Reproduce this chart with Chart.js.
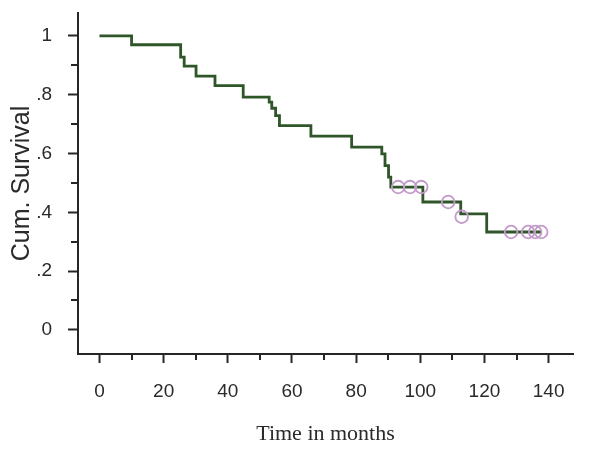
<!DOCTYPE html>
<html>
<head>
<meta charset="utf-8">
<script src="https://cdn.jsdelivr.net/npm/chart.js@4"></script>
<style>
  html, body { margin: 0; padding: 0; background: #fff; }
  #wrap { width: 602px; height: 453px; position: relative; }
</style>
</head>
<body>
<div id="wrap"><canvas id="kmChart"></canvas></div>
<script>
// Kaplan-Meier steps (months, cumulative survival)
const stepTimes = [0, 10.0, 25.3, 26.4, 30.1, 36.0, 44.8, 52.9, 53.7, 54.9, 56.1, 65.9, 78.6, 88.0, 89.0, 90.1, 90.8, 100.8, 112.6, 120.7, 137.7];
const stepSurvival = [1, 0.970, 0.928, 0.897, 0.863, 0.831, 0.792, 0.775, 0.754, 0.729, 0.695, 0.659, 0.622, 0.599, 0.559, 0.520, 0.486, 0.435, 0.395, 0.333, 0.333];

// censored cases (circles)
const censorTimes = [93.1, 96.8, 100.3, 108.7, 112.9, 128.3, 133.6, 135.8, 137.7];
const censorSurvival = [0.486, 0.486, 0.486, 0.435, 0.385, 0.333, 0.333, 0.333, 0.333];

const xTickValues = [0, 20, 40, 60, 80, 100, 120, 140];
const xTickLabels = ["0", "20", "40", "60", "80", "100", "120", "140"];
const xMinorTicks = [10, 30, 50, 70, 90, 110, 130];

const yTickValues = [0, 0.2, 0.4, 0.6, 0.8, 1];
const yTickLabels = ["0", ".2", ".4", ".6", ".8", "1"];
const yMinorTicks = [0.1, 0.3, 0.5, 0.7, 0.9];

const axisColor = "#262626";
const textColor = "#2a2a2a";
const sansFont = "'Liberation Sans', Arial, sans-serif";
const serifFont = "'Liberation Serif', 'Times New Roman', serif";

const minorTicksPlugin = {
  id: "minorTicks",
  afterDraw(chart) {
    const { ctx } = chart;
    const x = chart.scales.x;
    const y = chart.scales.y;
    ctx.save();
    ctx.strokeStyle = axisColor;
    ctx.lineWidth = 2;
    xMinorTicks.forEach((v) => {
      const px = Math.round(x.getPixelForValue(v));
      ctx.beginPath();
      ctx.moveTo(px, x.top);
      ctx.lineTo(px, x.top + 6);
      ctx.stroke();
    });
    yMinorTicks.forEach((v) => {
      const py = Math.round(y.getPixelForValue(v));
      ctx.beginPath();
      ctx.moveTo(y.right, py);
      ctx.lineTo(y.right - 7, py);
      ctx.stroke();
    });
    ctx.restore();
  },
};

const ctx = document.getElementById("kmChart").getContext("2d");

new Chart(ctx, {
  type: "line",
  data: {
    datasets: [
      {
        label: "Censored",
        data: censorTimes.map((t, i) => ({ x: t, y: censorSurvival[i] })),
        showLine: false,
        pointStyle: "circle",
        pointRadius: 6.3,
        pointBorderWidth: 1.8,
        pointBorderColor: "#c49acb",
        pointBackgroundColor: "rgba(0,0,0,0)",
        order: 0,
      },
      {
        label: "Cum. Survival",
        data: stepTimes.map((t, i) => ({ x: t, y: stepSurvival[i] })),
        stepped: true,
        borderColor: "#2f5628",
        borderWidth: 2.8,
        pointRadius: 0,
        fill: false,
        order: 1,
      },
    ],
  },
  options: {
    responsive: true,
    maintainAspectRatio: false,
    animation: false,
    layout: { padding: { top: 13, right: 29, left: 0, bottom: 0 } },
    plugins: {
      legend: { display: false },
      tooltip: { enabled: false },
    },
    scales: {
      x: {
        type: "linear",
        min: -6.7,
        max: 147.6,
        afterBuildTicks: (scale) => {
          scale.ticks = xTickValues.map((v) => ({ value: v }));
        },
        afterFit: (scale) => {
          scale.height = 99;
          scale.paddingLeft = 0;
          scale.paddingRight = 0;
        },
        ticks: {
          padding: 17,
          color: textColor,
          font: { family: sansFont, size: 19 },
          maxRotation: 0,
          callback: (v, i) => xTickLabels[i],
        },
        grid: {
          drawOnChartArea: false,
          drawTicks: true,
          tickLength: 9,
          tickWidth: 2,
          tickColor: axisColor,
        },
        border: { display: true, color: axisColor, width: 2 },
        title: {
          display: true,
          text: "Time in months",
          color: textColor,
          font: { family: serifFont, size: 22 },
          padding: { top: 0, bottom: 6 },
        },
      },
      y: {
        type: "linear",
        min: -0.082,
        max: 1.078,
        afterBuildTicks: (scale) => {
          scale.ticks = yTickValues.map((v) => ({ value: v }));
        },
        afterFit: (scale) => {
          scale.width = 78;
          scale.paddingTop = 0;
          scale.paddingBottom = 0;
        },
        ticks: {
          padding: 16,
          color: textColor,
          font: { family: sansFont, size: 19 },
          callback: (v, i) => yTickLabels[i],
        },
        grid: {
          drawOnChartArea: false,
          drawTicks: true,
          tickLength: 10,
          tickWidth: 2,
          tickColor: axisColor,
        },
        border: { display: true, color: axisColor, width: 2 },
        title: {
          display: true,
          text: "Cum. Survival",
          color: textColor,
          font: { family: sansFont, size: 25 },
          padding: { top: 7, bottom: 0 },
        },
      },
    },
  },
  plugins: [minorTicksPlugin],
});
</script>
</body>
</html>
